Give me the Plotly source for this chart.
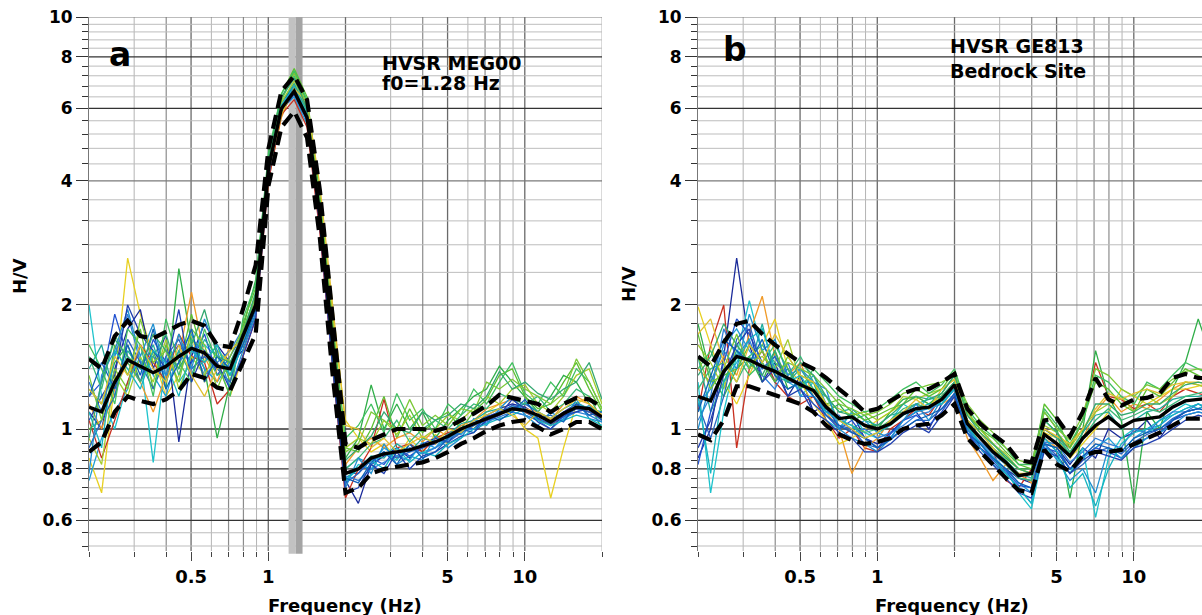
import plotly.graph_objects as go

# ---------------- data ----------------
FREQ = [0.200, 0.224, 0.252, 0.283, 0.317, 0.356, 0.399, 0.448, 0.502, 0.564,
        0.632, 0.710, 0.796, 0.893, 1.002, 1.125, 1.262, 1.416, 1.589, 1.783,
        2.000, 2.244, 2.518, 2.825, 3.170, 3.557, 3.991, 4.477, 5.024, 5.637,
        6.325, 7.096, 7.962, 8.934, 10.02, 11.25, 12.62, 14.16, 15.89, 17.83, 20.00]

# Panel a : HVSR MEG00
A_MEAN = [1.13, 1.10, 1.30, 1.47, 1.42, 1.37, 1.42, 1.50, 1.57, 1.53, 1.42, 1.40, 1.68, 2.00,
          4.30, 6.00, 6.60, 5.70, 3.30, 1.60, 0.78, 0.80, 0.85, 0.87, 0.88, 0.89, 0.91, 0.93,
          0.96, 1.00, 1.03, 1.06, 1.09, 1.12, 1.11, 1.08, 1.04, 1.09, 1.13, 1.12, 1.07]
A_UPPER = [1.48, 1.40, 1.68, 1.83, 1.68, 1.66, 1.72, 1.79, 1.83, 1.78, 1.60, 1.58, 1.95, 2.50,
           4.80, 6.60, 7.20, 6.30, 3.80, 1.90, 0.92, 0.90, 0.94, 0.97, 1.00, 1.00, 1.00, 0.99,
           1.01, 1.05, 1.09, 1.14, 1.21, 1.19, 1.17, 1.15, 1.10, 1.15, 1.19, 1.18, 1.13]
A_LOWER = [0.88, 0.93, 1.10, 1.20, 1.17, 1.15, 1.18, 1.24, 1.36, 1.33, 1.26, 1.24, 1.45, 1.70,
           3.90, 5.40, 5.90, 5.10, 2.90, 1.35, 0.70, 0.72, 0.78, 0.80, 0.81, 0.82, 0.83, 0.85,
           0.88, 0.92, 0.95, 0.99, 1.02, 1.04, 1.05, 1.01, 0.97, 1.00, 1.04, 1.04, 1.00]

A_W01 = [0.85, 0.70, 1.30, 2.60, 1.90, 1.50, 1.20, 1.35, 1.70, 1.30, 1.45, 1.20, 1.50, 2.10, 4.00, 5.80, 6.90, 5.90, 3.60, 1.90, 1.05,
         0.95, 0.88, 0.92, 0.85, 0.95, 0.88, 0.97, 0.92, 1.05, 1.00, 1.10, 1.15, 1.10, 1.00, 0.95, 0.68, 0.90, 1.15, 1.20, 1.05]
A_W02 = [1.25, 1.15, 1.45, 1.60, 1.30, 1.55, 1.25, 2.45, 1.60, 1.40, 0.95, 1.30, 1.75, 2.30, 4.50, 6.30, 7.40, 6.20, 3.40, 1.70, 0.85,
         0.95, 1.28, 1.00, 1.15, 1.00, 1.10, 0.95, 1.05, 1.12, 1.20, 1.25, 1.42, 1.30, 1.20, 1.10, 1.20, 1.35, 1.30, 1.15, 1.00]
A_W03 = [2.00, 1.20, 1.00, 1.30, 1.50, 0.83, 1.50, 1.30, 1.45, 1.60, 1.50, 1.35, 1.60, 1.90, 4.20, 6.10, 6.70, 5.80, 3.20, 1.50, 0.74,
         0.82, 0.80, 0.88, 0.84, 0.92, 0.88, 0.90, 0.95, 0.98, 1.02, 1.05, 1.08, 1.14, 1.10, 1.06, 1.02, 1.10, 1.12, 1.10, 1.05]
A_W04 = [1.10, 1.00, 1.40, 1.75, 1.95, 1.40, 1.70, 0.93, 1.50, 1.80, 1.60, 1.45, 1.55, 1.90, 4.40, 6.20, 6.80, 5.60, 3.10, 1.45, 0.75,
         0.66, 0.82, 0.86, 0.90, 0.85, 0.92, 0.95, 0.93, 1.00, 1.02, 1.08, 1.12, 1.15, 1.13, 1.08, 1.05, 1.10, 1.15, 1.12, 1.08]
A_W05 = [1.20, 1.30, 1.90, 1.50, 1.30, 1.65, 1.45, 1.60, 1.45, 1.70, 1.35, 1.50, 1.70, 2.00, 4.30, 6.00, 6.50, 5.70, 3.30, 1.55, 0.78,
         0.78, 0.85, 0.82, 0.90, 0.86, 0.90, 0.92, 0.97, 1.02, 1.00, 1.07, 1.10, 1.12, 1.15, 1.10, 1.02, 1.08, 1.12, 1.10, 1.06]
A_W06 = [0.75, 0.95, 1.10, 1.25, 1.60, 1.35, 1.20, 1.55, 1.70, 1.40, 1.30, 1.45, 1.65, 2.05, 4.50, 6.00, 6.40, 5.50, 3.40, 1.60, 0.80,
         0.85, 0.82, 0.90, 0.86, 0.84, 0.93, 0.90, 0.98, 0.97, 1.05, 1.03, 1.10, 1.10, 1.08, 1.05, 1.03, 1.07, 1.10, 1.14, 1.08]
A_W07 = [1.00, 1.05, 1.60, 1.35, 1.75, 1.25, 1.60, 1.40, 1.90, 1.45, 1.60, 1.30, 1.80, 2.20, 4.60, 6.50, 7.50, 6.40, 3.70, 1.80, 0.90,
         0.88, 1.00, 1.20, 0.95, 1.12, 0.98, 1.05, 1.10, 1.00, 1.10, 1.18, 1.35, 1.40, 1.20, 1.12, 1.15, 1.30, 1.45, 1.25, 1.10]
A_W08 = [1.15, 1.00, 1.25, 1.45, 1.30, 1.10, 1.35, 1.50, 2.15, 1.50, 1.30, 1.60, 1.60, 2.00, 4.10, 5.70, 6.80, 6.00, 3.50, 1.70, 0.82,
         0.90, 0.95, 0.90, 0.95, 0.98, 0.93, 1.00, 0.96, 1.02, 1.05, 1.12, 1.15, 1.18, 1.12, 1.10, 1.05, 1.15, 1.20, 1.15, 1.08]
A_W09 = [1.05, 0.85, 1.05, 1.30, 1.60, 1.45, 1.30, 1.70, 1.50, 1.45, 1.15, 1.25, 1.50, 1.85, 4.00, 5.80, 6.30, 5.40, 3.00, 1.40, 0.68,
         0.80, 0.90, 1.18, 0.90, 0.92, 0.88, 0.95, 0.98, 1.00, 1.03, 1.05, 1.08, 1.12, 1.10, 1.06, 1.02, 1.08, 1.12, 1.10, 1.06]
A_W10 = [1.40, 1.60, 1.20, 1.55, 1.40, 1.60, 1.30, 1.55, 1.35, 1.65, 1.50, 1.35, 1.65, 2.10, 4.40, 6.20, 6.90, 5.90, 3.30, 1.60, 0.76,
         0.80, 0.86, 0.85, 0.92, 0.88, 0.95, 0.93, 0.97, 1.03, 1.05, 1.10, 1.12, 1.10, 1.16, 1.10, 1.06, 1.12, 1.16, 1.12, 1.10]
A_W11 = [1.30, 1.10, 1.50, 1.90, 1.45, 1.50, 1.35, 1.45, 1.60, 1.35, 1.45, 1.55, 1.75, 2.00, 4.20, 5.90, 6.60, 5.80, 3.20, 1.55, 0.77,
         0.75, 0.80, 0.83, 0.86, 0.90, 0.87, 0.90, 0.94, 0.99, 1.00, 1.04, 1.07, 1.10, 1.08, 1.05, 1.00, 1.06, 1.10, 1.08, 1.04]
A_W12 = [0.95, 0.82, 1.35, 1.20, 1.50, 1.30, 1.65, 1.25, 1.50, 1.35, 1.55, 1.45, 1.60, 2.00, 4.30, 6.20, 7.00, 6.10, 3.50, 1.75, 0.90,
         0.95, 0.92, 1.05, 0.97, 1.08, 0.95, 1.00, 1.08, 1.05, 1.12, 1.20, 1.15, 1.25, 1.28, 1.15, 1.10, 1.20, 1.35, 1.40, 1.15]
A_W13 = [1.50, 1.25, 1.70, 1.45, 1.30, 1.50, 1.70, 1.35, 1.65, 1.55, 1.35, 1.40, 1.70, 2.10, 4.50, 6.30, 7.20, 6.00, 3.40, 1.65, 0.80,
         0.85, 0.92, 0.95, 1.05, 0.93, 1.00, 1.05, 1.00, 1.08, 1.15, 1.12, 1.22, 1.18, 1.15, 1.20, 1.10, 1.15, 1.25, 1.20, 1.05]
A_W14 = [0.90, 1.05, 1.20, 1.65, 1.45, 1.25, 1.50, 1.65, 1.40, 1.50, 1.40, 1.30, 1.65, 1.95, 4.30, 6.10, 6.70, 5.70, 3.20, 1.50, 0.74,
         0.78, 0.84, 0.88, 0.85, 0.88, 0.90, 0.94, 0.93, 0.98, 1.02, 1.06, 1.10, 1.14, 1.12, 1.06, 1.03, 1.07, 1.12, 1.10, 1.07]
A_W15 = [0.78, 1.35, 1.55, 1.95, 1.50, 1.80, 1.35, 1.70, 1.40, 1.85, 1.55, 1.25, 1.55, 1.90, 4.20, 6.00, 6.60, 5.80, 3.30, 1.45, 0.72,
         0.85, 0.78, 0.92, 0.82, 0.86, 0.84, 0.96, 0.90, 0.95, 1.06, 1.02, 1.12, 1.20, 1.08, 1.02, 1.10, 1.05, 1.18, 1.06, 1.04]
A_W16 = [1.60, 1.40, 1.15, 1.75, 1.60, 1.20, 1.85, 1.45, 1.30, 1.75, 1.45, 1.20, 1.85, 2.25, 4.70, 6.50, 7.40, 6.30, 3.60, 1.75, 0.95,
         1.02, 1.15, 0.98, 1.22, 1.05, 1.12, 1.00, 1.15, 1.08, 1.25, 1.15, 1.30, 1.45, 1.22, 1.15, 1.30, 1.20, 1.40, 1.30, 1.12]
A_W17 = [1.05, 1.20, 1.35, 2.00, 1.70, 1.55, 1.40, 1.95, 1.30, 1.55, 1.45, 1.25, 1.50, 1.85, 4.10, 5.90, 6.50, 5.60, 3.10, 1.40, 0.70,
         0.72, 0.82, 0.78, 0.88, 0.80, 0.86, 0.88, 0.92, 0.96, 0.98, 1.05, 1.08, 1.18, 1.12, 1.04, 1.00, 1.08, 1.10, 1.12, 1.05]
A_W18 = [1.35, 1.05, 1.40, 1.25, 1.85, 1.45, 1.55, 1.30, 1.75, 1.60, 1.25, 1.50, 1.75, 2.10, 4.40, 6.30, 7.30, 6.10, 3.50, 1.70, 0.88,
         0.92, 1.10, 1.05, 1.00, 1.18, 1.02, 1.08, 1.02, 1.12, 1.10, 1.30, 1.25, 1.32, 1.25, 1.20, 1.15, 1.22, 1.48, 1.30, 1.12]
A_W19 = [1.10, 0.90, 1.55, 1.40, 1.25, 1.55, 1.45, 1.20, 1.55, 1.45, 1.60, 1.35, 1.60, 2.00, 4.40, 6.10, 6.80, 5.80, 3.40, 1.55, 0.75,
         0.80, 0.84, 0.80, 0.90, 0.83, 0.88, 0.86, 0.92, 0.95, 1.00, 1.03, 1.06, 1.08, 1.12, 1.05, 1.02, 1.05, 1.08, 1.06, 1.02]
A_W20 = [1.20, 1.45, 1.25, 1.60, 1.35, 1.75, 1.25, 1.45, 1.75, 1.30, 1.50, 1.40, 1.60, 1.95, 4.25, 6.00, 6.70, 5.70, 3.20, 1.50, 0.76,
         0.74, 0.83, 0.88, 0.82, 0.92, 0.85, 0.88, 0.95, 1.00, 0.98, 1.08, 1.05, 1.10, 1.18, 1.06, 1.08, 1.04, 1.15, 1.08, 1.10]
A_W21 = [1.25, 1.15, 1.50, 1.35, 1.60, 1.40, 1.30, 1.60, 1.35, 1.20, 1.40, 1.55, 1.65, 2.05, 4.20, 5.80, 6.70, 6.20, 3.90, 2.00, 1.02,
         1.00, 0.90, 0.95, 0.88, 0.92, 0.96, 0.92, 1.00, 0.98, 1.05, 1.08, 1.12, 1.08, 1.02, 1.10, 1.06, 1.12, 1.18, 1.15, 1.08]
A_W22 = [0.95, 1.30, 1.65, 1.50, 1.40, 1.70, 1.55, 1.40, 1.60, 1.95, 1.50, 1.45, 1.70, 2.15, 4.50, 6.40, 7.10, 6.00, 3.40, 1.65, 0.84,
         0.90, 0.96, 1.10, 1.00, 0.98, 1.10, 1.05, 1.08, 1.15, 1.12, 1.20, 1.38, 1.25, 1.30, 1.22, 1.18, 1.25, 1.30, 1.45, 1.18]

# Panel b : HVSR GE813 (bedrock site)
B_MEAN = [1.20, 1.17, 1.38, 1.50, 1.47, 1.42, 1.38, 1.33, 1.28, 1.24, 1.13, 1.06, 1.07, 1.02,
          1.00, 1.03, 1.09, 1.12, 1.13, 1.18, 1.28, 1.03, 0.95, 0.88, 0.83, 0.77, 0.78, 0.97,
          0.92, 0.86, 0.95, 1.02, 1.07, 1.01, 1.05, 1.06, 1.07, 1.13, 1.17, 1.18, 1.19]
B_UPPER = [1.50, 1.42, 1.62, 1.80, 1.83, 1.70, 1.60, 1.52, 1.45, 1.40, 1.33, 1.25, 1.18, 1.10,
           1.12, 1.17, 1.22, 1.25, 1.25, 1.30, 1.36, 1.12, 1.03, 0.97, 0.92, 0.84, 0.83, 1.05,
           1.06, 0.96, 1.10, 1.33, 1.18, 1.14, 1.18, 1.19, 1.22, 1.33, 1.36, 1.33, 1.33]
B_LOWER = [0.97, 0.94, 1.05, 1.27, 1.27, 1.24, 1.21, 1.18, 1.15, 1.10, 1.02, 0.97, 0.94, 0.92,
           0.93, 0.95, 1.00, 1.02, 1.03, 1.08, 1.15, 0.95, 0.88, 0.82, 0.76, 0.71, 0.70, 0.89,
           0.82, 0.79, 0.86, 0.88, 0.88, 0.89, 0.92, 0.95, 0.98, 1.02, 1.06, 1.06, 1.06]

B_W01 = [0.85, 1.00, 1.50, 2.60, 1.60, 1.30, 1.45, 1.20, 1.35, 1.10, 1.15, 1.00, 1.10, 0.95, 0.92, 0.98, 1.05, 1.10, 1.00, 1.15, 1.25,
         1.05, 0.90, 0.85, 0.80, 0.76, 0.74, 0.92, 0.90, 0.82, 0.90, 0.85, 1.00, 0.95, 0.98, 1.05, 0.95, 1.05, 1.10, 1.12, 1.15]
B_W02 = [1.30, 0.70, 1.10, 1.50, 2.05, 1.55, 1.30, 1.40, 1.20, 1.30, 1.05, 1.00, 1.10, 0.98, 0.95, 1.05, 1.15, 1.10, 1.20, 1.15, 1.30,
         1.00, 0.92, 0.85, 0.80, 0.70, 0.64, 0.90, 0.85, 0.78, 0.90, 0.61, 0.85, 0.95, 1.00, 0.98, 1.02, 1.10, 1.15, 1.12, 1.16]
B_W03 = [1.10, 1.60, 2.00, 0.90, 1.40, 1.55, 1.30, 1.20, 1.15, 1.20, 1.05, 0.95, 1.00, 0.90, 0.88, 1.00, 1.05, 1.12, 1.08, 1.20, 1.30,
         1.05, 0.95, 0.88, 0.75, 0.72, 0.80, 1.00, 0.95, 0.90, 1.05, 1.45, 1.20, 1.18, 1.12, 1.15, 1.10, 1.20, 1.25, 1.22, 1.20]
B_W04 = [1.40, 1.30, 1.50, 1.35, 1.70, 2.10, 1.50, 1.35, 1.45, 1.20, 1.10, 1.00, 0.78, 0.90, 0.95, 1.05, 1.10, 1.15, 1.12, 1.15, 1.20,
         0.95, 0.85, 0.75, 0.82, 0.78, 0.74, 0.95, 0.90, 0.88, 0.95, 1.10, 1.20, 1.10, 1.15, 1.12, 1.18, 1.25, 1.30, 1.28, 1.25]
B_W05 = [1.98, 1.60, 1.30, 1.15, 1.35, 1.60, 1.85, 1.40, 1.30, 1.15, 1.05, 0.92, 0.95, 1.00, 1.05, 1.10, 1.15, 1.20, 1.15, 1.20, 1.30,
         1.00, 0.95, 0.90, 0.85, 0.80, 0.78, 0.98, 0.95, 0.85, 0.92, 1.00, 1.10, 1.25, 1.20, 1.15, 1.20, 1.25, 1.25, 1.27, 1.30]
B_W06 = [1.80, 1.35, 1.20, 1.40, 1.50, 1.30, 1.55, 1.25, 1.30, 1.30, 1.10, 1.15, 1.05, 1.08, 1.00, 1.10, 1.18, 1.20, 1.15, 1.22, 1.35,
         1.10, 1.00, 0.92, 0.85, 0.80, 0.80, 1.10, 1.00, 0.68, 1.00, 1.55, 1.20, 1.05, 0.66, 1.10, 1.00, 1.25, 1.45, 1.85, 1.50]
B_W07 = [1.15, 1.25, 1.60, 1.75, 1.55, 1.40, 1.50, 1.30, 1.25, 1.35, 1.15, 1.05, 1.00, 1.05, 0.98, 0.95, 1.05, 1.10, 1.12, 1.15, 1.25,
         1.02, 0.92, 0.86, 0.80, 0.74, 0.70, 0.95, 0.88, 0.80, 0.85, 0.90, 0.95, 0.88, 0.95, 1.00, 1.02, 1.08, 1.12, 1.15, 1.10]
B_W08 = [1.05, 1.20, 1.75, 1.50, 1.65, 1.35, 1.25, 1.45, 1.20, 1.20, 1.10, 1.08, 0.98, 1.00, 0.95, 0.98, 1.02, 1.08, 1.10, 1.18, 1.28,
         1.00, 0.93, 0.87, 0.82, 0.76, 0.75, 0.93, 0.92, 0.83, 0.88, 0.95, 0.92, 0.90, 1.00, 0.98, 1.05, 1.10, 1.10, 1.15, 1.12]
B_W09 = [1.50, 1.10, 1.30, 1.55, 1.40, 1.80, 1.35, 1.30, 1.40, 1.25, 1.20, 1.10, 1.12, 1.05, 1.02, 1.08, 1.10, 1.15, 1.18, 1.20, 1.30,
         1.05, 0.98, 0.90, 0.84, 0.78, 0.76, 1.00, 0.95, 0.87, 0.98, 1.08, 1.10, 1.00, 1.05, 1.10, 1.12, 1.18, 1.20, 1.20, 1.22]
B_W10 = [1.60, 1.45, 1.25, 1.60, 1.45, 1.50, 1.40, 1.65, 1.30, 1.25, 1.15, 1.12, 1.08, 1.10, 1.05, 1.10, 1.20, 1.18, 1.22, 1.25, 1.32,
         1.10, 1.00, 0.92, 0.87, 0.80, 0.78, 1.02, 0.98, 0.90, 1.00, 1.10, 1.15, 1.20, 1.10, 1.20, 1.15, 1.20, 1.30, 1.28, 1.25]
B_W11 = [0.82, 1.10, 1.45, 1.85, 1.70, 1.45, 1.30, 1.40, 1.25, 1.15, 1.08, 1.00, 1.05, 0.95, 0.90, 0.97, 1.05, 1.08, 1.02, 1.10, 1.22,
         0.98, 0.90, 0.84, 0.79, 0.73, 0.72, 0.90, 0.88, 0.80, 0.86, 0.90, 0.88, 0.85, 0.92, 0.95, 0.98, 1.05, 1.08, 1.10, 1.08]
B_W12 = [1.70, 1.30, 1.35, 1.40, 1.60, 1.45, 1.30, 1.50, 1.35, 1.30, 1.15, 1.18, 1.10, 1.05, 1.08, 1.12, 1.15, 1.25, 1.20, 1.25, 1.38,
         1.08, 1.00, 0.95, 0.88, 0.82, 0.80, 1.15, 1.05, 0.90, 1.05, 1.30, 1.25, 1.15, 1.10, 1.25, 1.20, 1.30, 1.40, 1.35, 1.30]
B_W13 = [1.25, 1.40, 1.45, 1.30, 1.50, 1.60, 1.45, 1.35, 1.50, 1.30, 1.20, 1.05, 1.02, 0.98, 1.00, 1.05, 1.12, 1.15, 1.12, 1.20, 1.30,
         1.05, 0.95, 0.88, 0.82, 0.76, 0.75, 1.05, 0.98, 0.86, 0.95, 1.05, 1.12, 1.05, 1.08, 1.12, 1.10, 1.15, 1.20, 1.22, 1.25]
B_W14 = [1.15, 0.95, 1.20, 1.65, 1.80, 1.40, 1.50, 1.30, 1.30, 1.20, 1.12, 1.02, 1.00, 0.92, 0.90, 0.95, 1.00, 1.05, 1.05, 1.12, 1.20,
         1.00, 0.90, 0.83, 0.78, 0.72, 0.70, 0.92, 0.86, 0.78, 0.82, 0.88, 0.90, 0.87, 0.93, 0.97, 1.00, 1.06, 1.10, 1.12, 1.10]
B_W15 = [1.00, 1.30, 1.55, 1.40, 1.90, 1.55, 1.65, 1.35, 1.40, 1.30, 1.25, 1.00, 0.95, 0.92, 0.88, 0.95, 1.05, 1.15, 1.05, 1.18, 1.25,
         1.00, 0.90, 0.82, 0.78, 0.72, 0.66, 0.92, 0.84, 0.75, 0.80, 0.70, 0.90, 0.85, 0.90, 0.95, 0.98, 1.02, 1.08, 1.10, 1.08]
B_W16 = [1.40, 1.55, 1.30, 1.50, 1.35, 1.45, 1.60, 1.40, 1.25, 1.40, 1.30, 1.20, 1.15, 1.10, 1.12, 1.18, 1.25, 1.30, 1.22, 1.28, 1.40,
         1.12, 1.02, 0.96, 0.90, 0.82, 0.82, 1.12, 1.02, 0.92, 1.05, 1.35, 1.30, 1.20, 1.15, 1.30, 1.25, 1.35, 1.45, 1.40, 1.35]
B_W17 = [0.90, 1.05, 1.35, 1.60, 1.75, 1.30, 1.40, 1.20, 1.25, 1.10, 1.05, 0.98, 0.95, 0.88, 0.88, 0.92, 0.98, 1.02, 0.98, 1.08, 1.20,
         0.98, 0.88, 0.82, 0.76, 0.70, 0.68, 0.88, 0.86, 0.78, 0.84, 0.88, 0.86, 0.84, 0.90, 0.92, 0.95, 1.00, 1.05, 1.08, 1.06]
B_W18 = [1.50, 1.25, 1.40, 1.70, 1.40, 1.55, 1.35, 1.45, 1.40, 1.35, 1.25, 1.15, 1.12, 1.08, 1.10, 1.15, 1.22, 1.25, 1.28, 1.30, 1.35,
         1.15, 1.05, 0.98, 0.90, 0.84, 0.82, 1.10, 1.00, 0.94, 1.08, 1.40, 1.35, 1.25, 1.20, 1.28, 1.25, 1.32, 1.38, 1.40, 1.38]
B_W19 = [1.20, 0.78, 1.30, 1.45, 1.65, 1.75, 1.40, 1.30, 1.35, 1.20, 1.10, 1.05, 1.02, 0.95, 0.98, 1.02, 1.08, 1.12, 1.15, 1.15, 1.25,
         1.02, 0.92, 0.85, 0.78, 0.72, 0.66, 0.95, 0.88, 0.72, 0.78, 0.65, 0.80, 0.92, 0.98, 1.00, 1.05, 1.08, 1.12, 1.15, 1.12]
B_W20 = [1.10, 1.35, 1.65, 1.55, 1.45, 1.65, 1.35, 1.25, 1.30, 1.20, 1.08, 1.02, 0.98, 0.95, 0.90, 0.94, 1.00, 1.05, 1.08, 1.12, 1.22,
         0.98, 0.92, 0.85, 0.80, 0.74, 0.72, 0.92, 0.90, 0.80, 0.86, 0.92, 0.90, 0.88, 0.95, 0.98, 1.00, 1.05, 1.10, 1.12, 1.10]
B_W21 = [1.70, 1.85, 1.45, 1.30, 1.60, 1.45, 1.70, 1.50, 1.35, 1.30, 1.15, 1.05, 1.00, 0.95, 0.98, 1.05, 1.10, 1.18, 1.12, 1.25, 1.32,
         1.05, 0.98, 0.90, 0.82, 0.78, 0.78, 1.00, 0.96, 0.92, 1.00, 1.12, 1.22, 1.18, 1.22, 1.25, 1.22, 1.28, 1.30, 1.30, 1.28]
B_W22 = [1.35, 1.50, 1.80, 1.60, 1.45, 1.35, 1.55, 1.30, 1.45, 1.35, 1.20, 1.10, 1.08, 1.02, 1.02, 1.08, 1.15, 1.20, 1.18, 1.22, 1.35,
         1.08, 0.98, 0.92, 0.86, 0.80, 0.78, 1.05, 0.98, 0.88, 0.98, 1.15, 1.15, 1.08, 1.10, 1.15, 1.15, 1.22, 1.28, 1.30, 1.28]

F0 = 1.28
F0_LOW = 1.20
F0_HIGH = 1.36

X_TICK_VALUES = [0.5, 1, 5, 10]
X_TICK_LABELS = ["0.5", "1", "5", "10"]
X_MINOR_TICKS = [0.2, 0.3, 0.4, 0.6, 0.7, 0.8, 0.9, 2, 3, 4, 6, 7, 8, 9, 20]
Y_TICK_VALUES = [0.6, 0.8, 1, 2, 4, 6, 8, 10]
Y_TICK_LABELS = ["0.6", "0.8", "1", "2", "4", "6", "8", "10"]
Y_MINOR_TICKS = [0.52, 0.56, 0.64, 0.68, 0.72, 0.76, 0.84, 0.88, 0.92, 0.96,
                 1.2, 1.4, 1.6, 1.8, 2.4, 2.8, 3.2, 3.6, 4.4, 4.8, 5.2, 5.6,
                 6.4, 6.8, 7.2, 7.6, 8.4, 8.8, 9.2, 9.6]

# grid categories
X_GRID_DARK = [0.5, 1, 2, 5, 10]
X_GRID_MID = [0.4, 0.7, 0.8, 4, 7, 8]
X_GRID_LIGHT = [0.3, 0.6, 0.9, 3, 6, 9, 20]
Y_GRID_DARK = [0.6, 0.8, 1, 6, 8]
Y_GRID_MID = [2, 4, 10]

A_COLORS = ["#e8d020", "#2fae48", "#1ec3cc", "#1a2a9a", "#2050d0", "#1c9ed8", "#5cc030",
            "#f09a28", "#c83020", "#20ab9c", "#2f7fd8", "#a4cc2c", "#3cb878", "#2a64c0",
            "#1f8fd0", "#40c060", "#2040b0", "#7cc838", "#16b4c0", "#0d5fb8", "#e0c030", "#34a870"]
B_COLORS = ["#1a2a9a", "#1ec3cc", "#c83020", "#f09a28", "#e8d020", "#2fae48", "#1c9ed8",
            "#2f7fd8", "#20ab9c", "#a4cc2c", "#2050d0", "#5cc030", "#3cb878", "#2a64c0",
            "#1f8fd0", "#40c060", "#2040b0", "#7cc838", "#16b4c0", "#0d5fb8", "#e0c030", "#34a870"]

A_WINDOWS = [A_W01, A_W02, A_W03, A_W04, A_W05, A_W06, A_W07, A_W08, A_W09, A_W10, A_W11,
             A_W12, A_W13, A_W14, A_W15, A_W16, A_W17, A_W18, A_W19, A_W20, A_W21, A_W22]
B_WINDOWS = [B_W01, B_W02, B_W03, B_W04, B_W05, B_W06, B_W07, B_W08, B_W09, B_W10, B_W11,
             B_W12, B_W13, B_W14, B_W15, B_W16, B_W17, B_W18, B_W19, B_W20, B_W21, B_W22]

# ---------------- figure ----------------
fig = go.Figure()


def add_panel(xa, ya, windows, colors, mean, upper, lower):
    for w, c in zip(windows, colors):
        fig.add_trace(go.Scatter(x=FREQ, y=w, mode="lines", xaxis=xa, yaxis=ya,
                                 line=dict(color=c, width=1.3), hoverinfo="skip"))
    for s in (upper, lower):
        fig.add_trace(go.Scatter(x=FREQ, y=s, mode="lines", xaxis=xa, yaxis=ya,
                                 line=dict(color="black", width=4.2, dash="14px,7px")))
    fig.add_trace(go.Scatter(x=FREQ, y=mean, mode="lines", xaxis=xa, yaxis=ya,
                             line=dict(color="black", width=3.4)))


add_panel("x", "y", A_WINDOWS, A_COLORS, A_MEAN, A_UPPER, A_LOWER)
add_panel("x2", "y2", B_WINDOWS, B_COLORS, B_MEAN, B_UPPER, B_LOWER)

shapes = []
for xr, yr in (("x", "y"), ("x2", "y2")):
    for vals, col, wd in ((X_GRID_LIGHT, "#b4b4b4", 1), (X_GRID_MID, "#8c8c8c", 1.2), (X_GRID_DARK, "#6a6a6a", 1.3)):
        for f in vals:
            shapes.append(dict(type="line", xref=xr, yref=yr + " domain", x0=f, x1=f, y0=0, y1=1,
                               line=dict(color=col, width=wd), layer="below"))
    for v in Y_MINOR_TICKS:
        shapes.append(dict(type="line", xref=xr + " domain", yref=yr, x0=0, x1=1, y0=v, y1=v,
                           line=dict(color="#bdbdbd", width=1), layer="below"))
    for v in Y_GRID_MID:
        shapes.append(dict(type="line", xref=xr + " domain", yref=yr, x0=0, x1=1, y0=v, y1=v,
                           line=dict(color="#7a7a7a", width=1.2), layer="below"))
    for v in Y_GRID_DARK:
        shapes.append(dict(type="line", xref=xr + " domain", yref=yr, x0=0, x1=1, y0=v, y1=v,
                           line=dict(color="#333333", width=1.3), layer="below"))

# f0 band (panel a)
shapes.append(dict(type="rect", xref="x", yref="y domain", x0=F0_LOW, x1=F0, y0=-0.005, y1=1,
                   fillcolor="#c2c2c2", line=dict(width=0), layer="below"))
shapes.append(dict(type="rect", xref="x", yref="y domain", x0=F0, x1=F0_HIGH, y0=-0.005, y1=1,
                   fillcolor="#a4a4a4", line=dict(width=0), layer="below"))

FONT = "DejaVu Sans"
tick_font_x = dict(family=FONT, size=18, color="black", weight="bold")
tick_font_y = dict(family=FONT, size=17, color="black", weight="bold")

xaxis_common = dict(type="log", tickmode="array", tickvals=X_TICK_VALUES, ticktext=X_TICK_LABELS,
                    ticks="outside", ticklen=9, tickwidth=1, tickcolor="#444",
                    showgrid=False, zeroline=False, showline=False, tickfont=tick_font_x,
                    minor=dict(tickmode="array", tickvals=X_MINOR_TICKS, ticks="outside",
                               ticklen=5, tickcolor="#444", tickwidth=1, showgrid=False))
yaxis_common = dict(type="log", range=[-0.2961, 1.0], tickmode="array", tickvals=Y_TICK_VALUES,
                    ticktext=Y_TICK_LABELS, ticks="outside", ticklen=12, tickwidth=1.2,
                    tickcolor="#333", showgrid=False, zeroline=False, showline=True,
                    linecolor="#777", linewidth=1, tickfont=tick_font_y,
                    minor=dict(tickmode="array", tickvals=Y_MINOR_TICKS, ticks="outside",
                               ticklen=6, tickcolor="#333", tickwidth=1.2, showgrid=False))

fig.update_layout(
    width=1202, height=615,
    margin=dict(l=89, r=0, t=17, b=64),
    paper_bgcolor="white", plot_bgcolor="white",
    showlegend=False,
    shapes=shapes,
    xaxis=dict(domain=[0, 0.46092], range=[-0.69897, 1.30103], anchor="y", **xaxis_common),
    xaxis2=dict(domain=[0.54717, 1.0], range=[-0.69897, 1.2659], anchor="y2", **xaxis_common),
    yaxis=dict(domain=[0, 1], anchor="x", **yaxis_common),
    yaxis2=dict(domain=[0, 1], anchor="x2", **yaxis_common),
)

lab = dict(family=FONT, color="black", weight="bold")
ann = [
    dict(text="a", xref="x domain", yref="y domain", x=0.036, y=0.93, xanchor="left", yanchor="middle",
         font=dict(size=33, **lab), showarrow=False),
    dict(text="b", xref="x2 domain", yref="y2 domain", x=0.045, y=0.94, xanchor="left", yanchor="middle",
         font=dict(size=33, **lab), showarrow=False),
    dict(text="HVSR MEG00", xref="x domain", yref="y domain", x=0.568, y=(551 - 63) / 534,
         xanchor="left", yanchor="middle", font=dict(size=19, **lab), showarrow=False),
    dict(text="f0=1.28 Hz", xref="x domain", yref="y domain", x=0.568, y=(551 - 83) / 534,
         xanchor="left", yanchor="middle", font=dict(size=19, **lab), showarrow=False),
    dict(text="HVSR GE813", xref="x2 domain", yref="y2 domain", x=0.497, y=(551 - 46) / 534,
         xanchor="left", yanchor="middle", font=dict(size=19, **lab), showarrow=False),
    dict(text="Bedrock Site", xref="x2 domain", yref="y2 domain", x=0.497, y=(551 - 71) / 534,
         xanchor="left", yanchor="middle", font=dict(size=19, **lab), showarrow=False),
    dict(text="H/V", xref="paper", yref="paper", x=(19 - 89) / 1113, y=(551 - 276) / 534,
         xanchor="center", yanchor="middle", textangle=-90, font=dict(size=18, **lab), showarrow=False),
    dict(text="H/V", xref="paper", yref="paper", x=(628 - 89) / 1113, y=(551 - 284) / 534,
         xanchor="center", yanchor="middle", textangle=-90, font=dict(size=18, **lab), showarrow=False),
    dict(text="Frequency (Hz)", xref="paper", yref="paper", x=(345 - 89) / 1113, y=(551 - 605) / 534,
         xanchor="center", yanchor="middle", font=dict(size=18, **lab), showarrow=False),
    dict(text="Frequency (Hz)", xref="paper", yref="paper", x=(952 - 89) / 1113, y=(551 - 605) / 534,
         xanchor="center", yanchor="middle", font=dict(size=18, **lab), showarrow=False),
]
fig.update_layout(annotations=ann)

fig.write_html("out.html")
